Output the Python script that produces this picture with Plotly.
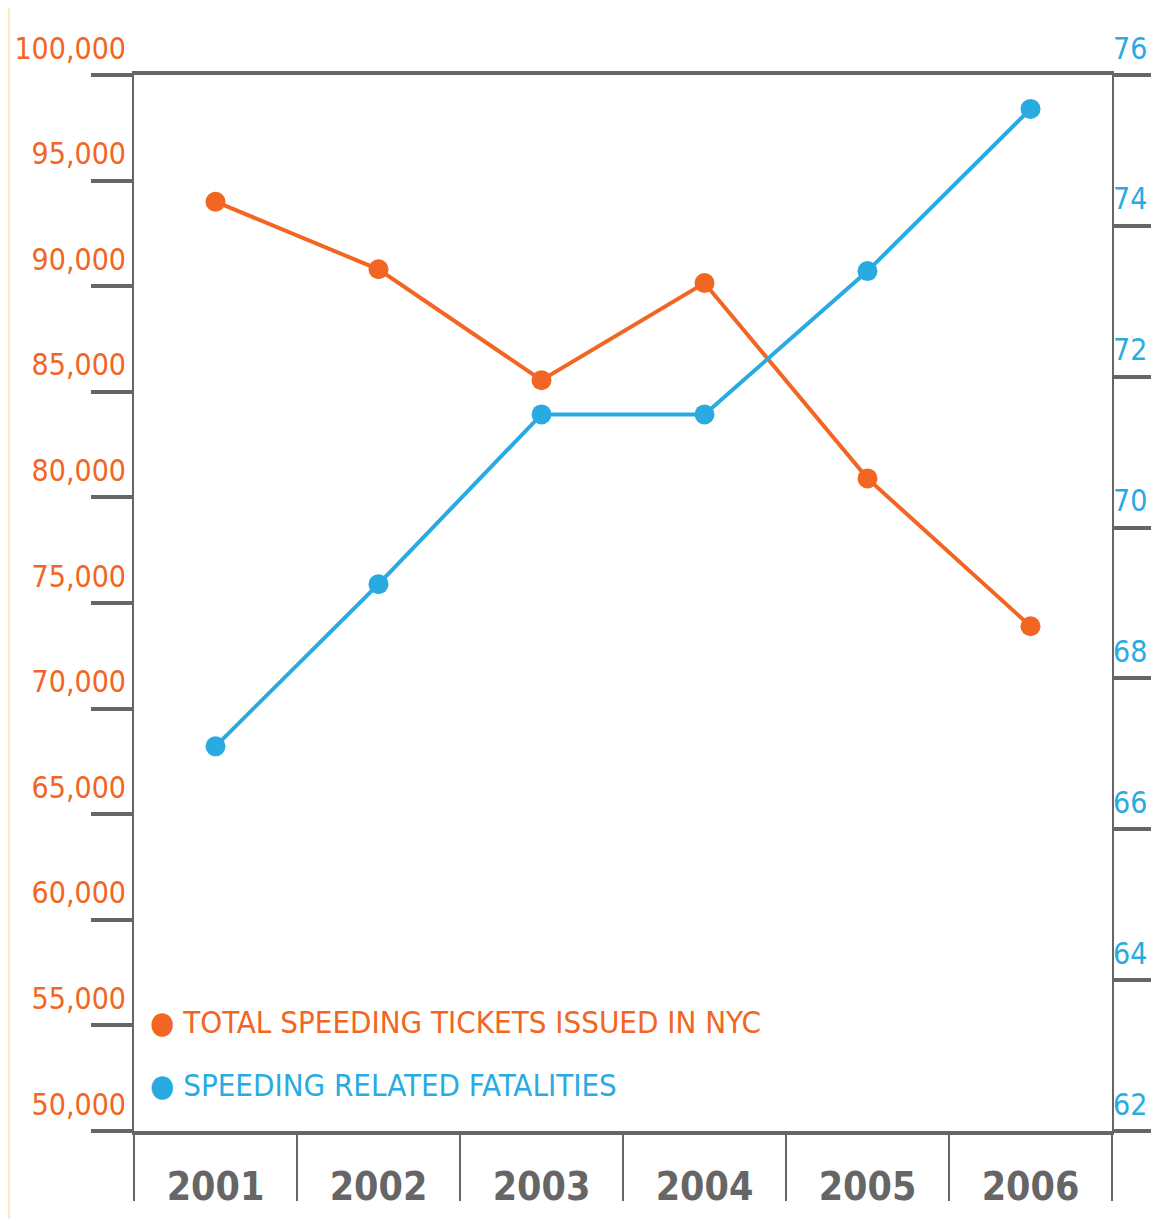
import plotly.graph_objects as go

years = ["2001", "2002", "2003", "2004", "2005", "2006"]
tickets = [94000, 90800, 85550, 90150, 80900, 73900]
fatalities = [67.1, 69.25, 71.5, 71.5, 73.4, 75.55]

left_ticks = [50000, 55000, 60000, 65000, 70000, 75000, 80000, 85000, 90000, 95000, 100000]
left_labels = ["50,000", "55,000", "60,000", "65,000", "70,000", "75,000", "80,000",
               "85,000", "90,000", "95,000", "100,000"]
right_ticks = [62, 64, 66, 68, 70, 72, 74, 76]
right_labels = ["62", "64", "66", "68", "70", "72", "74", "76"]

legend_names = ["TOTAL SPEEDING TICKETS ISSUED IN NYC", "SPEEDING RELATED FATALITIES"]

ORANGE = "#F26522"
BLUE = "#29ABE2"
GRAY = "#666666"
FONT = "DejaVu Sans Condensed, Liberation Sans Narrow, Arial Narrow, sans-serif"

fig = go.Figure()
fig.add_trace(go.Scatter(x=years, y=tickets, mode="lines+markers", name=legend_names[0],
                         line=dict(color=ORANGE, width=4),
                         marker=dict(color=ORANGE, size=20), yaxis="y"))
fig.add_trace(go.Scatter(x=years, y=fatalities, mode="lines+markers", name=legend_names[1],
                         line=dict(color=BLUE, width=4),
                         marker=dict(color=BLUE, size=20), yaxis="y2"))

# page has an 8px body margin, so figure coordinates are page coordinates - 8
OFF = 8
W, H = 1143, 1211
L, T = 134 - OFF, 75 - OFF
R = W - (1112 - OFF)
B = H - (1131 - OFF)
pw, ph = W - L - R, H - T - B

def px(x):
    return (x - OFF - L) / pw

def py(y):
    return (H - B - (y - OFF)) / ph

fig.update_layout(
    width=W, height=H,
    margin=dict(l=L, r=R, t=T, b=B, autoexpand=False),
    paper_bgcolor="white", plot_bgcolor="white",
    showlegend=False,
    font=dict(family=FONT),
    xaxis=dict(type="category", range=[-0.5, 5.5], showgrid=False, zeroline=False,
               automargin=False,
               showline=True, linecolor=GRAY, linewidth=4, mirror=True,
               ticks="outside", tickson="boundaries", ticklen=66, tickwidth=2, tickcolor=GRAY,
               ticklabelstandoff=18,
               tickfont=dict(family=FONT, size=39, color=GRAY, weight="bold")),
    yaxis=dict(range=[50000, 100000], showgrid=False, zeroline=False, automargin=False,
               showline=True, linecolor=GRAY, linewidth=2,
               tickmode="array", tickvals=left_ticks, ticktext=left_labels,
               ticks="outside", ticklen=41, tickwidth=4, tickcolor=GRAY,
               ticklabelposition="outside top", ticklabelstandoff=0, ticklabelshift=-4,
               tickfont=dict(family=FONT, size=30, color=ORANGE)),
    yaxis2=dict(range=[62, 76], overlaying="y", side="right", showgrid=False, zeroline=False,
                automargin=False,
                showline=True, linecolor=GRAY, linewidth=2,
                tickmode="array", tickvals=right_ticks, ticktext=right_labels,
                ticks="outside", ticklen=40, tickwidth=4, tickcolor=GRAY,
                ticklabelposition="outside top", ticklabelstandoff=-7, ticklabelshift=-4,
                tickfont=dict(family=FONT, size=30, color=BLUE)),
    shapes=[
        dict(type="rect", xref="paper", yref="paper", x0=px(OFF), x1=px(OFF + 2), y0=py(OFF + H), y1=py(OFF),
             fillcolor="#FBEBC0", line=dict(width=0), layer="below"),
    ],
    annotations=[
        dict(xref="paper", yref="paper", x=px(148), y=py(1022), xanchor="left", yanchor="middle",
             text="● " + legend_names[0], showarrow=False,
             font=dict(family=FONT, size=31, color=ORANGE)),
        dict(xref="paper", yref="paper", x=px(148), y=py(1085), xanchor="left", yanchor="middle",
             text="● " + legend_names[1], showarrow=False,
             font=dict(family=FONT, size=31, color=BLUE)),
    ],
)

fig.write_html("out.html")
